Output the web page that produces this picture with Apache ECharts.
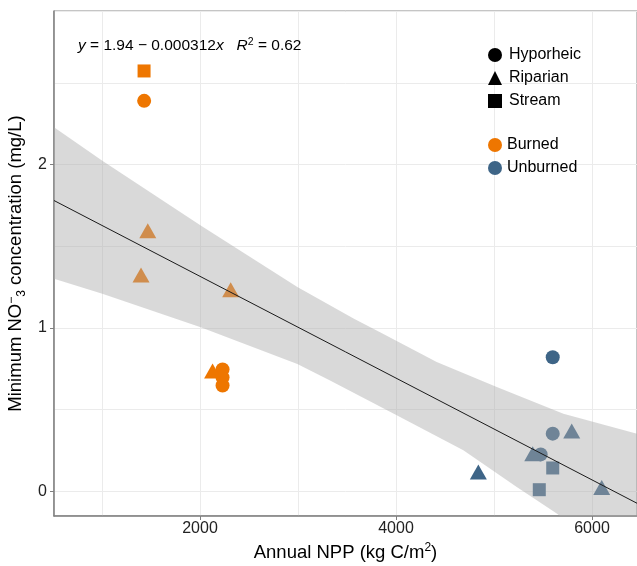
<!DOCTYPE html>
<html>
<head>
<meta charset="utf-8">
<script src="https://cdn.jsdelivr.net/npm/echarts@6/dist/echarts.min.js"></script>
<style>html,body{margin:0;padding:0;background:#fff}#c{width:637px;height:566px}</style>
</head>
<body>
<div id="c"></div>
<script>
// ---- data ----
const burnedHyporheic = [[1430, 2.39], [2230, 0.746], [2230, 0.697], [2230, 0.648]];
const burnedRiparian  = [[1467, 1.595], [1398, 1.324], [2313, 1.234], [2128, 0.737]];
const burnedStream    = [[1429, 2.573]];
const unburnedHyporheic = [[5599, 0.821], [5599, 0.353], [5476, 0.226]];
const unburnedRiparian  = [[5793, 0.369], [5395, 0.23], [4840, 0.118], [6099, 0.023]];
const unburnedStream    = [[5599, 0.143], [5462, 0.010]];
const fitLine = [[510, 1.78], [6459, -0.073]];
const bandUpper = [[510, 2.228], [1003, 2.024], [2007, 1.627], [2993, 1.250], [3571, 1.056], [3837, 0.974], [4415, 0.791], [5028, 0.638], [5708, 0.475], [6459, 0.353]];
const bandLower = [[510, 1.301], [1003, 1.209], [2007, 1.005], [2993, 0.78], [3327, 0.679], [4007, 0.465], [4687, 0.251], [5232, 0.026], [5640, -0.136], [6459, -0.503]];
const shapeNames = ['Hyporheic', 'Riparian', 'Stream'];
const groupNames = ['Burned', 'Unburned'];
const equationText = '{i|y} = 1.94 \u2212 0.000312{i|x}   {i|R}{s|2} = 0.62';
const xTitle = 'Annual NPP (kg C/m{s|2})';
const yTitle = 'Minimum NO{s|\u2212}{b|3} concentration (mg/L)';

const ORANGE = '#EE7600', BLUE = '#3E6587';
const FONT = '"Liberation Sans", Arial, sans-serif';
const X_MIN = 510, X_MAX = 6459, Y_MIN = -0.151, Y_MAX = 2.94;

function pts(series, name, symbol, size, color) {
  return { type: 'scatter', name: name, data: series, symbol: symbol, symbolSize: size,
    itemStyle: { color: color, opacity: 1 }, z: 2, silent: true };
}
function key(name, color) {
  return { type: 'scatter', name: name, data: [], itemStyle: { color: color, opacity: 1 } };
}
const tri = [17, 15];

const chart = echarts.init(document.getElementById('c'), null, { renderer: 'canvas' });
chart.setOption({
  animation: false,
  backgroundColor: '#fff',
  textStyle: { fontFamily: FONT },
  grid: { left: 54, right: 0, top: 11, bottom: 50, show: true, borderColor: '#8a8a8a', borderWidth: 1,
    containLabel: false, outerBoundsMode: 'none' },
  xAxis: [
    { type: 'value', min: X_MIN, max: X_MAX, splitNumber: 6,
      axisLine: { show: true, onZero: false, lineStyle: { color: '#7f7f7f', width: 1.5 } },
      axisTick: { show: false }, axisLabel: { show: false },
      splitLine: { show: true, lineStyle: { color: '#ebebeb', width: 1 } } },
    { type: 'value', min: X_MIN, max: X_MAX, splitNumber: 3, position: 'bottom',
      axisLine: { show: false, onZero: false }, splitLine: { show: false },
      axisTick: { show: true, length: 4, lineStyle: { color: '#7f7f7f' } },
      axisLabel: { show: true, fontSize: 16, color: '#222', margin: 5, fontFamily: FONT,
        showMinLabel: false, showMaxLabel: false, formatter: v => String(v) },
      name: xTitle, nameLocation: 'middle', nameGap: 26,
      nameTextStyle: { fontSize: 18.5, color: '#000', fontFamily: FONT, lineHeight: 22,
        rich: { s: { fontSize: 12, verticalAlign: 'top', lineHeight: 12, fontFamily: FONT, color: '#000' } } } }
  ],
  yAxis: [
    { type: 'value', min: Y_MIN, max: Y_MAX, splitNumber: 6,
      axisLine: { show: true, onZero: false, lineStyle: { color: '#7f7f7f', width: 1.5 } },
      axisTick: { show: false }, axisLabel: { show: false },
      splitLine: { show: true, lineStyle: { color: '#ebebeb', width: 1 } } },
    { type: 'value', min: Y_MIN, max: Y_MAX, splitNumber: 3, position: 'left',
      axisLine: { show: false, onZero: false }, splitLine: { show: false },
      axisTick: { show: true, length: 4, lineStyle: { color: '#7f7f7f' } },
      axisLabel: { show: true, fontSize: 16, color: '#222', margin: 7, fontFamily: FONT,
        showMinLabel: false, showMaxLabel: false, formatter: v => String(v) },
      name: yTitle, nameLocation: 'middle', nameGap: 25,
      nameTextStyle: { fontSize: 18.5, color: '#000', fontFamily: FONT, lineHeight: 22,
        rich: { s: { fontSize: 12, verticalAlign: 'top', lineHeight: 12, fontFamily: FONT, color: '#000' },
                b: { fontSize: 12, verticalAlign: 'bottom', lineHeight: 12, fontFamily: FONT, color: '#000' } } } }
  ],
  legend: [
    { data: [{ name: shapeNames[0], icon: 'circle' }, { name: shapeNames[1], icon: 'triangle' }, { name: shapeNames[2], icon: 'rect' }],
      orient: 'vertical', left: 488, top: 47, itemWidth: 14, itemHeight: 14, itemGap: 7, selectedMode: false,
      itemStyle: { opacity: 1 }, padding: 0,
      textStyle: { fontSize: 16, color: '#000', fontFamily: FONT, padding: [0, 0, 0, 2] } },
    { data: [{ name: groupNames[0], icon: 'circle' }, { name: groupNames[1], icon: 'circle' }],
      orient: 'vertical', left: 488, top: 137, itemWidth: 14, itemHeight: 14, itemGap: 7, selectedMode: false,
      itemStyle: { opacity: 1 }, padding: 0,
      textStyle: { fontSize: 16, color: '#000', fontFamily: FONT, padding: [0, 0, 0, 0] } }
  ],
  graphic: [
    { type: 'text', left: 78, top: 37, z: 10,
      style: { text: equationText, font: '15.5px ' + FONT, fill: '#000', lineHeight: 18,
        rich: { i: { fontStyle: 'italic', fontSize: 15.5, fontFamily: FONT, lineHeight: 18 },
                s: { fontSize: 10.5, verticalAlign: 'top', lineHeight: 10, fontFamily: FONT } } } }
  ],
  series: [
    pts(burnedHyporheic, 'Burned Hyporheic', 'circle', 14, ORANGE),
    pts(burnedRiparian, 'Burned Riparian', 'triangle', tri, ORANGE),
    pts(burnedStream, 'Burned Stream', 'rect', 13, ORANGE),
    pts(unburnedHyporheic, 'Unburned Hyporheic', 'circle', 14, BLUE),
    pts(unburnedRiparian, 'Unburned Riparian', 'triangle', tri, BLUE),
    pts(unburnedStream, 'Unburned Stream', 'rect', 13, BLUE),
    { type: 'custom', name: 'band', z: 3, clip: true, silent: true,
      data: [fitLine[0]],
      renderItem: function (params, api) {
        const poly = bandUpper.map(p => api.coord(p)).concat(bandLower.slice().reverse().map(p => api.coord(p)));
        return { type: 'polygon', shape: { points: poly }, style: { fill: 'rgba(170,170,170,0.45)' } };
      } },
    { type: 'line', name: 'fit', data: fitLine, symbol: 'none', z: 4, silent: true,
      lineStyle: { color: '#1a1a1a', width: 1 } },
    key(shapeNames[0], '#000'), key(shapeNames[1], '#000'), key(shapeNames[2], '#000'),
    key(groupNames[0], ORANGE), key(groupNames[1], BLUE)
  ]
});
</script>
</body>
</html>
